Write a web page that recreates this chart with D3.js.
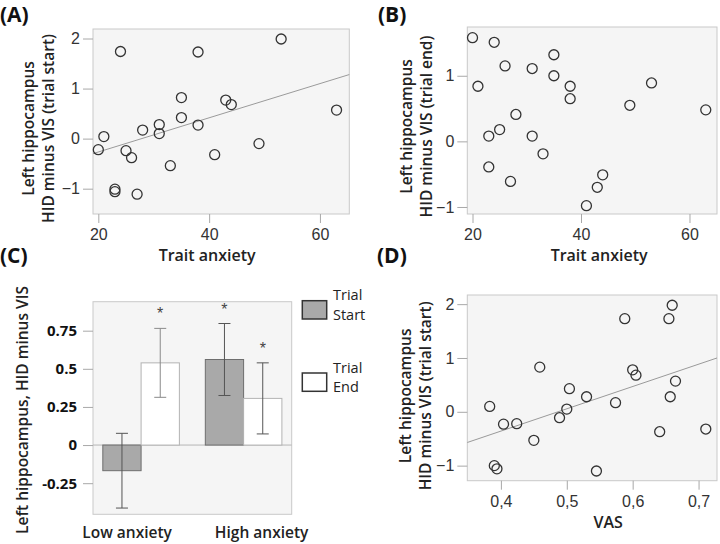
<!DOCTYPE html>
<html><head><meta charset="utf-8">
<script src="https://cdn.jsdelivr.net/npm/d3@7"></script>
<style>body{margin:0;background:#fff}svg{display:block}</style>
</head><body><svg id="c" width="720" height="544"></svg>
<script>
// ---- Data ----
const traitAnxiety = [24,38,53,63,35,43,44,35,38,31,31,28,21,20,25,26,33,41,49,23,23,27];
const hvStart      = [1.74,1.73,1.99,0.57,0.82,0.77,0.68,0.42,0.27,0.28,0.10,0.17,0.04,-0.22,-0.24,-0.38,-0.54,-0.32,-0.10,-1.01,-1.06,-1.11];
const traitAnxB    = [20,24,21,26,31,35,35,38,38,53,49,63,28,25,23,31,33,23,27,44,43,41];
const hvEnd        = [1.58,1.51,0.84,1.15,1.11,1.32,1.00,0.84,0.65,0.89,0.55,0.48,0.41,0.18,0.08,0.08,-0.19,-0.39,-0.61,-0.51,-0.70,-0.98];
const vas          = [0.660,0.655,0.588,0.459,0.600,0.605,0.665,0.504,0.530,0.657,0.574,0.383,0.500,0.489,0.404,0.424,0.450,0.641,0.711,0.390,0.394,0.545];
const hvStartD     = [1.98,1.73,1.73,0.83,0.78,0.68,0.57,0.43,0.28,0.28,0.17,0.10,0.05,-0.11,-0.23,-0.22,-0.53,-0.37,-0.32,-1.00,-1.06,-1.10];
const fitA = [[19.04,-0.30],[65.3,1.28]];
const fitD = [[0.349,-0.57],[0.728,1.00]];

const groups = ["Low anxiety","High anxiety"];
const phases = ["Trial Start","Trial End"];
const barMeans = [[-0.168,0.539],[0.561,0.306]];
const barErr   = [[0.245,0.226],[0.236,0.233]];
const barStar  = [[false,true],[true,true]];

const ticksTrait = [20,40,60];
const ticksA = [-1,0,1,2];
const ticksB = [-1,0,1];
const ticksC = [-0.25,0,0.25,0.5,0.75];
const ticksC_labels = ["-0.25","0","0.25","0.5","0.75"];
const ticksVAS = [0.4,0.5,0.6,0.7];
const ticksVAS_labels = ["0,4","0,5","0,6","0,7"];
const ticksD = [-1,0,1,2];

// ---- Drawing ----
const svg = d3.select("#c");
const TITLE_FONT = "'Open Sans', sans-serif";
const TICK_FONT = "'Liberation Sans', Arial, sans-serif";

function panelLabel(txt, x, y){
  svg.append("text").attr("x",x).attr("y",y).text(txt)
    .attr("font-family",TITLE_FONT).attr("font-weight",700).attr("font-size",21).attr("fill","#111");
}

function scatter(o){
  const x = d3.scaleLinear().domain(o.xDom).range([o.x0,o.x1]);
  const y = d3.scaleLinear().domain(o.yDom).range([o.y1,o.y0]);
  const g = svg.append("g");
  g.append("rect").attr("x",o.x0).attr("y",o.y0).attr("width",o.x1-o.x0).attr("height",o.y1-o.y0)
    .attr("fill","#f5f5f5").attr("stroke","#c9c9c9").attr("stroke-width",1);
  const ya = g.append("g").attr("transform",`translate(${o.x0},0)`)
    .call(d3.axisLeft(y).tickValues(o.yTicks).tickSize(10).tickPadding(3).tickFormat(d3.format("d")));
  const xa = g.append("g").attr("transform",`translate(0,${o.y1})`)
    .call(d3.axisBottom(x).tickValues(o.xTicks).tickSize(9).tickPadding(6)
      .tickFormat((d,i)=>o.xLabels?o.xLabels[i]:d3.format("d")(d)));
  [ya,xa].forEach(a=>{
    a.select(".domain").remove();
    a.selectAll("line").attr("stroke","#a8a8a8");
    a.selectAll("text").attr("font-family",TICK_FONT).attr("font-size",16).attr("fill","#333");
  });
  if(o.fit){
    g.append("line").attr("x1",x(o.fit[0][0])).attr("y1",y(o.fit[0][1]))
      .attr("x2",x(o.fit[1][0])).attr("y2",y(o.fit[1][1]))
      .attr("stroke","#9a9a9a").attr("stroke-width",1);
  }
  g.selectAll("circle.p").data(o.xs).join("circle").attr("class","p")
    .attr("cx",d=>x(d)).attr("cy",(d,i)=>y(o.ys[i])).attr("r",5)
    .attr("fill","none").attr("stroke","#333").attr("stroke-width",1.3);
  const cy = (o.y0+o.y1)/2 + o.titleShift;
  o.yTitle.forEach((t,i)=>{
    g.append("text").attr("transform",`translate(${o.titleX+i*20},${cy}) rotate(-90)`)
      .attr("text-anchor","middle").attr("dominant-baseline","central").text(t)
      .attr("font-family",TITLE_FONT).attr("font-weight",600).attr("font-size",15.5).attr("fill","#222");
  });
  g.append("text").attr("x",(o.x0+o.x1)/2+o.xTitleShift).attr("y",o.y1+41)
    .attr("text-anchor","middle").attr("dominant-baseline","central").text(o.xTitle)
    .attr("font-family",TITLE_FONT).attr("font-weight",600).attr("font-size",16).attr("fill","#222");
}

scatter({x0:93,x1:349.3,y0:29,y1:214,xDom:[19.04,65.3],yDom:[-1.506,2.19],
  xTicks:ticksTrait,yTicks:ticksA,xs:traitAnxiety,ys:hvStart,fit:fitA,
  yTitle:["Left hippocampus","HID minus VIS (trial start)"],titleX:28,titleShift:7,
  xTitle:"Trait anxiety",xTitleShift:-14});
scatter({x0:467.3,x1:717,y0:27,y1:214,xDom:[19.04,65.07],yDom:[-1.107,1.743],
  xTicks:ticksTrait,yTicks:ticksB,xs:traitAnxB,ys:hvEnd,
  yTitle:["Left hippocampus","HID minus VIS (trial end)"],titleX:406,titleShift:6,
  xTitle:"Trait anxiety",xTitleShift:7});
scatter({x0:467.3,x1:717,y0:295,y1:480.7,xDom:[0.349,0.728],yDom:[-1.28,2.17],
  xTicks:ticksVAS,xLabels:ticksVAS_labels,yTicks:ticksD,xs:vas,ys:hvStartD,fit:fitD,
  yTitle:["Left hippocampus","HID minus VIS (trial start)"],titleX:405,titleShift:8,
  xTitle:"VAS",xTitleShift:16});

// ---- Panel C ----
(function(){
  const x0=93,x1=291.7,y0=301.7,y1=514.3;
  const x = d3.scaleBand().domain(groups).range([x0,x1]).paddingInner(0.253).paddingOuter(0.0957);
  const xs = d3.scaleBand().domain(phases).range([0,x.bandwidth()]);
  const y = d3.scaleLinear().domain([-0.454,0.940]).range([y1,y0]);
  const g = svg.append("g");
  g.append("rect").attr("x",x0).attr("y",y0).attr("width",x1-x0).attr("height",y1-y0)
    .attr("fill","#f5f5f5").attr("stroke","#c9c9c9");
  const ya = g.append("g").attr("transform",`translate(${x0},0)`)
    .call(d3.axisLeft(y).tickValues(ticksC).tickSize(10).tickPadding(6).tickFormat((d,i)=>ticksC_labels[i]));
  ya.select(".domain").remove();
  ya.selectAll("line").attr("stroke","#a8a8a8");
  ya.selectAll("text").attr("font-family",TITLE_FONT).attr("font-weight",700).attr("font-size",15).attr("fill","#111");
  g.append("line").attr("x1",x0).attr("x2",x1).attr("y1",y(0)).attr("y2",y(0)).attr("stroke","#b5b5b5");
  const fills=["#a9a9a9","#ffffff"], strokes=["#6e6e6e","#b3b3b3"];
  groups.forEach((grp,gi)=>{
    phases.forEach((ph,pi)=>{
      const v=barMeans[gi][pi], e=barErr[gi][pi];
      const bx = x(grp)+xs(ph), bw = xs.bandwidth(), cx = bx+bw/2;
      g.append("rect").attr("x",bx).attr("width",bw)
        .attr("y",y(Math.max(0,v))).attr("height",Math.abs(y(v)-y(0)))
        .attr("fill",fills[pi]).attr("stroke",strokes[pi]).attr("stroke-width",1);
      const ec = gi===0&&pi===1 ? "#8a8a8a" : "#555";
      g.append("line").attr("x1",cx).attr("x2",cx).attr("y1",y(v+e)).attr("y2",y(v-e)).attr("stroke",ec);
      [v+e,v-e].forEach(w=>g.append("line").attr("x1",cx-6).attr("x2",cx+6).attr("y1",y(w)).attr("y2",y(w)).attr("stroke",ec));
      if(barStar[gi][pi]){
        g.append("text").attr("x",cx).attr("y",y(v+e)-9).attr("text-anchor","middle")
          .text("*").attr("font-family",TICK_FONT).attr("font-size",16).attr("fill","#444");
      }
    });
  });
  const labOff=[-14,18];
  groups.forEach((grp,gi)=>{
    g.append("text").attr("x",x(grp)+x.bandwidth()/2+labOff[gi]).attr("y",y1+18)
      .attr("text-anchor","middle").attr("dominant-baseline","central").text(grp)
      .attr("font-family",TITLE_FONT).attr("font-weight",600).attr("font-size",15.5).attr("fill","#222");
  });
  g.append("text").attr("transform",`translate(22,${(y0+y1)/2+2}) rotate(-90)`)
    .attr("text-anchor","middle").attr("dominant-baseline","central").text("Left hippocampus, HID minus VIS")
    .attr("font-family",TITLE_FONT).attr("font-weight",600).attr("font-size",15.5).attr("fill","#222");
  phases.forEach((ph,pi)=>{
    const ly = y0 - 1 + pi*72.3;
    g.append("rect").attr("x",302.3).attr("y",ly).attr("width",24.4).attr("height",18.3)
      .attr("fill",fills[pi]).attr("stroke","#333").attr("stroke-width",1.5);
    ph.split(" ").forEach((w,wi)=>{
      g.append("text").attr("x",333).attr("y",ly-6+wi*19.5).attr("dominant-baseline","central").text(w)
        .attr("font-family",TITLE_FONT).attr("font-size",14.5).attr("fill","#222");
    });
  });
})();

panelLabel("(A)",0,22);
panelLabel("(B)",378,22);
panelLabel("(C)",0,263);
panelLabel("(D)",377,263);
</script></body></html>
